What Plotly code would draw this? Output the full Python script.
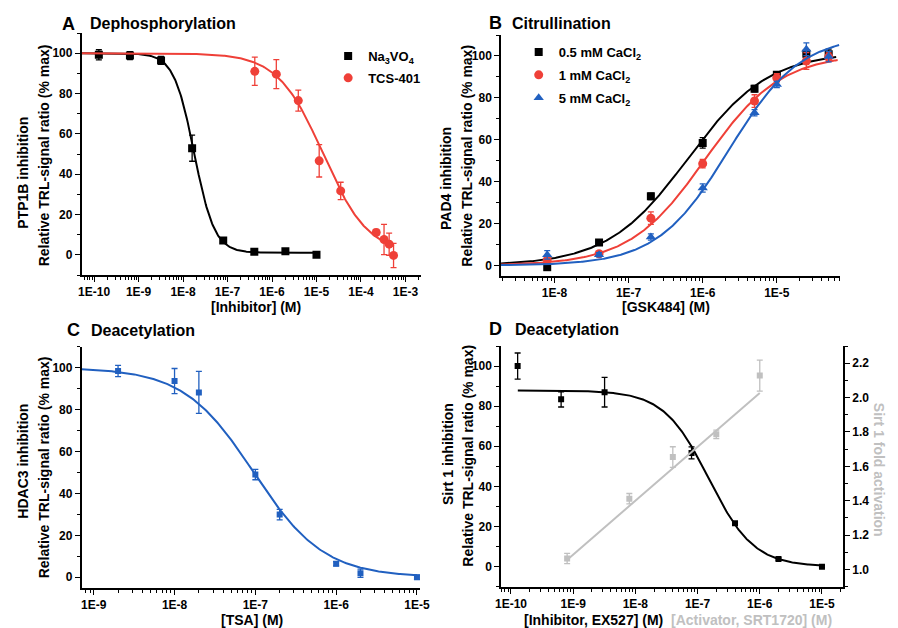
import numpy as np
import plotly.graph_objects as go

# ---------------- data ----------------
# Panel A: PTP1B dephosphorylation
a_na3vo4_conc = [1.28e-10, 6.4e-10, 3.2e-9, 1.6e-8, 8e-8, 4e-7, 2e-6, 1e-5]
a_na3vo4_val = [99.2, 98.8, 96.4, 52.9, 7.1, 1.5, 1.8, 0.0]
a_na3vo4_err = [2.5, 2.0, 2.0, 6.5, 1.0, 0.8, 0.8, 0.8]
a_tcs_conc = [4.1e-7, 1.25e-6, 3.9e-6, 1.15e-5, 3.5e-5, 2.2e-4, 3.3e-4, 4.3e-4, 5.4e-4]
a_tcs_val = [91.0, 89.6, 76.5, 46.6, 31.7, 11.1, 7.6, 5.3, -0.3]
a_tcs_err = [7.0, 7.2, 5.2, 8.0, 4.3, 1.5, 7.5, 5.5, 6.0]

# Panel B: PAD4 citrullination
b_conc = [8e-9, 4e-8, 2e-7, 1e-6, 5e-6, 1e-5, 2.5e-5, 5e-5]
b_05_val = [-0.8, 11.0, 33.0, 58.5, 84.4, 91.0, 101.0, 100.8]
b_05_err = [1.5, 1.0, 1.5, 2.5, 1.5, 1.5, 2.0, 2.5]
b_1_val = [2.7, 5.6, 22.6, 48.6, 78.5, 89.5, 97.6, 99.5]
b_1_err = [1.5, 1.0, 3.0, 2.0, 3.0, 2.0, 4.0, 2.0]
b_5_val = [5.1, 5.1, 13.6, 37.0, 72.9, 86.4, 103.2, 99.7]
b_5_err = [2.0, 1.0, 1.5, 2.0, 1.5, 1.5, 3.0, 2.5]

# Panel C: HDAC3 deacetylation
c_conc = [2e-9, 1e-8, 2e-8, 1e-7, 2e-7, 1e-6, 2e-6, 1e-5]
c_val = [98.4, 93.6, 88.2, 49.0, 29.9, 6.4, 1.9, 0.0]
c_err = [2.7, 6.0, 10.0, 2.5, 2.5, 1.0, 2.0, 1.0]

# Panel D: Sirt1 deacetylation (inhibitor, left axis; activator, right axis)
d_ex527_conc = [1.28e-10, 6.4e-10, 3.2e-9, 8e-8, 4e-7, 2e-6, 1e-5]
d_ex527_val = [100.0, 83.4, 87.0, 56.7, 21.6, 3.8, 0.0]
d_ex527_err = [6.5, 3.8, 7.4, 3.0, 0.8, 0.6, 0.5]
d_srt_conc = [8e-10, 8e-9, 4e-8, 2e-7, 1e-6]
d_srt_val = [1.064, 1.412, 1.654, 1.786, 2.128]
d_srt_err = [0.03, 0.03, 0.06, 0.025, 0.09]

# Four-parameter logistic fits:
# (response at low dose, response at high dose, log10 IC50/EC50, hill slope, log10 x start, log10 x end)
fit_a_na3vo4 = (100.0, 1.0, -7.75, 1.9, -10.28, -5.0)
fit_a_tcs = (100.0, 0.0, -4.85, 0.85, -10.28, -3.26)
fit_b_05 = (0.0, 102.0, -6.20, 0.80, -8.72, -4.20)
fit_b_1 = (0.0, 101.0, -5.97, 0.85, -8.72, -4.18)
fit_b_5 = (0.0, 110.0, -5.65, 0.90, -8.72, -4.16)
fit_c = (100.0, 0.0, -7.02, 1.0, -9.15, -5.0)
fit_d_ex527 = (87.8, 0.0, -6.82, 1.2, -9.89, -5.0)
# Linear fit in log(x) for the activator: (intercept, slope, log10 x start, log10 x end)
fit_d_srt = (3.904, 0.313, -9.09, -6.0)

RED = "#ef4038"
BLUE = "#2160c0"
BLACK = "#000000"
GRAY = "#c0c0c0"
FONT = "Liberation Sans, Arial, sans-serif"

W, H = 898, 628


def hill_curve(p, n=300):
    y_low, y_high, logc, h, lo, hi = p
    lx = np.linspace(lo, hi, n)
    y = y_high + (y_low - y_high) / (1.0 + 10.0 ** ((lx - logc) * h))
    return 10.0 ** lx, y


def lin_curve(p, n=50):
    a, b, lo, hi = p
    lx = np.linspace(lo, hi, n)
    return 10.0 ** lx, a + b * lx


def px_x(x):
    return x / W


def px_y(y):
    return 1 - y / H


fig = go.Figure()

# Axis domains (pixels -> paper)
dom = {
    "A": ((77, 423), (33, 275)),
    "B": ((504, 849), (35, 276)),
    "C": ((77, 421.7), (346.7, 587.7)),
    "D": ((504, 852.3), (346, 586.7)),
}


def xdom(k):
    return [px_x(dom[k][0][0]), px_x(dom[k][0][1])]


def ydom(k):
    return [px_y(dom[k][1][1]), px_y(dom[k][1][0])]


def err(arr, color, width=3):
    return dict(type="data", array=arr, visible=True, color=color, thickness=1.3, width=width)


# ---- Panel A ----
x, y = hill_curve(fit_a_na3vo4)
fig.add_trace(go.Scatter(x=x, y=y, mode="lines", line=dict(color=BLACK, width=2),
                         xaxis="x", yaxis="y", showlegend=False, hoverinfo="skip"))
fig.add_trace(go.Scatter(x=a_na3vo4_conc, y=a_na3vo4_val, mode="markers",
                         marker=dict(symbol="square", size=8, color=BLACK),
                         error_y=err(a_na3vo4_err, BLACK), name="Na<sub>3</sub>VO<sub>4</sub>",
                         legendgroup="a1", xaxis="x", yaxis="y", legend="legend"))
x, y = hill_curve(fit_a_tcs)
fig.add_trace(go.Scatter(x=x, y=y, mode="lines", line=dict(color=RED, width=2),
                         xaxis="x", yaxis="y", showlegend=False, hoverinfo="skip"))
fig.add_trace(go.Scatter(x=a_tcs_conc, y=a_tcs_val, mode="markers",
                         marker=dict(symbol="circle", size=9, color=RED),
                         error_y=err(a_tcs_err, RED), name="TCS-401",
                         legendgroup="a2", xaxis="x", yaxis="y", legend="legend"))

# ---- Panel B ----
for i, (fit, vals, errs, color, sym, size, label) in enumerate([
    (fit_b_05, b_05_val, b_05_err, BLACK, "square", 8, "0.5 mM CaCl<sub>2</sub>"),
    (fit_b_1, b_1_val, b_1_err, RED, "circle", 9, "1 mM CaCl<sub>2</sub>"),
    (fit_b_5, b_5_val, b_5_err, BLUE, "triangle-up", 9, "5 mM CaCl<sub>2</sub>"),
]):
    x, y = hill_curve(fit)
    fig.add_trace(go.Scatter(x=x, y=y, mode="lines", line=dict(color=color, width=2),
                             xaxis="x2", yaxis="y2", showlegend=False, hoverinfo="skip"))
    fig.add_trace(go.Scatter(x=b_conc, y=vals, mode="markers",
                             marker=dict(symbol=sym, size=size, color=color),
                             error_y=err(errs, color), name=label, legendgroup="b%d" % i,
                             xaxis="x2", yaxis="y2", legend="legend2"))

# ---- Panel C ----
x, y = hill_curve(fit_c)
fig.add_trace(go.Scatter(x=x, y=y, mode="lines", line=dict(color=BLUE, width=2),
                         xaxis="x3", yaxis="y3", showlegend=False, hoverinfo="skip"))
fig.add_trace(go.Scatter(x=c_conc, y=c_val, mode="markers",
                         marker=dict(symbol="square", size=6, color=BLUE),
                         error_y=err(c_err, BLUE), showlegend=False,
                         xaxis="x3", yaxis="y3"))

# ---- Panel D ----
x, y = lin_curve(fit_d_srt)
fig.add_trace(go.Scatter(x=x, y=y, mode="lines", line=dict(color=GRAY, width=2),
                         xaxis="x4", yaxis="y5", showlegend=False, hoverinfo="skip"))
fig.add_trace(go.Scatter(x=d_srt_conc, y=d_srt_val, mode="markers",
                         marker=dict(symbol="square", size=6, color=GRAY),
                         error_y=err(d_srt_err, GRAY), showlegend=False,
                         xaxis="x4", yaxis="y5"))
x, y = hill_curve(fit_d_ex527)
fig.add_trace(go.Scatter(x=x, y=y, mode="lines", line=dict(color=BLACK, width=2),
                         xaxis="x4", yaxis="y4", showlegend=False, hoverinfo="skip"))
fig.add_trace(go.Scatter(x=d_ex527_conc, y=d_ex527_val, mode="markers",
                         marker=dict(symbol="square", size=6, color=BLACK),
                         error_y=err(d_ex527_err, BLACK), showlegend=False,
                         xaxis="x4", yaxis="y4"))

tickfont = dict(family=FONT, size=12, color="black", weight="bold")


def log_minor(lo, hi):
    vals = []
    for d in range(lo, hi + 1):
        for m in range(2, 10):
            vals.append(m * 10.0 ** d)
    return vals


def log_axis(k, rng, dec_lo, dec_hi, anchor):
    tv = [10.0 ** d for d in range(dec_lo, dec_hi + 1)]
    tt = ["1E%d" % d for d in range(dec_lo, dec_hi + 1)]
    return dict(type="log", domain=xdom(k), range=rng, anchor=anchor,
                showline=True, linecolor="black", linewidth=1.6, mirror=False,
                ticks="outside", ticklen=5, tickwidth=1.4, tickcolor="black",
                tickmode="array", tickvals=tv, ticktext=tt, tickfont=tickfont,
                showgrid=False, zeroline=False,
                minor=dict(ticks="outside", ticklen=3, tickwidth=1, tickcolor="black",
                           tickmode="array", tickvals=log_minor(dec_lo - 2, dec_hi + 1),
                           showgrid=False))


def lin_axis(k, rng, anchor, side="left", dtick=20, minor_dtick=10, fmt=None, overlay=None):
    d = dict(domain=ydom(k), range=rng, anchor=anchor, side=side,
             showline=True, linecolor="black", linewidth=1.6,
             ticks="outside", ticklen=5, tickwidth=1.4, tickcolor="black",
             tick0=0, dtick=dtick, tickfont=tickfont, showgrid=False, zeroline=False,
             minor=dict(ticks="outside", ticklen=3, tickwidth=1, tickcolor="black",
                        dtick=minor_dtick, showgrid=False))
    if fmt:
        d["tickformat"] = fmt
    if overlay:
        d["overlaying"] = overlay
        d.pop("domain")
    return d


legend_font = dict(family=FONT, size=13, weight="bold", color="black")

layout = dict(
    width=W, height=H, margin=dict(l=0, r=0, t=0, b=0),
    paper_bgcolor="white", plot_bgcolor="white",
    font=dict(family=FONT, color="black"),
    xaxis=log_axis("A", [-10.28, -2.64], -10, -3, "y"),
    yaxis=lin_axis("A", [-10, 110], "x"),
    xaxis2=log_axis("B", [-8.72, -4.15], -8, -5, "y2"),
    yaxis2=lin_axis("B", [-5, 110], "x2"),
    xaxis3=log_axis("C", [-9.15, -4.96], -9, -5, "y3"),
    yaxis3=lin_axis("C", [-5, 110], "x3"),
    xaxis4=log_axis("D", [-10.16, -4.66], -10, -5, "y4"),
    yaxis4=lin_axis("D", [-10, 110], "x4"),
    yaxis5=lin_axis("D", [0.9, 2.3], "x4", side="right", dtick=0.2, minor_dtick=0.1,
                    fmt=".1f", overlay="y4"),
    legend=dict(x=px_x(328), y=px_y(41), xanchor="left", yanchor="top",
                bgcolor="rgba(0,0,0,0)", font=legend_font,
                itemwidth=30, traceorder="grouped", tracegroupgap=2),
    legend2=dict(x=px_x(522), y=px_y(37), xanchor="left", yanchor="top",
                 bgcolor="rgba(0,0,0,0)", font=legend_font,
                 itemwidth=30, traceorder="grouped", tracegroupgap=3),
)
fig.update_layout(**layout)
fig.update_layout(yaxis5=dict(tick0=1.0))

ann = []


def text(x, y, s, size, color="black", angle=0, xanchor="left", yanchor="middle"):
    ann.append(dict(x=px_x(x), y=px_y(y), xref="paper", yref="paper", text=s,
                    showarrow=False, xanchor=xanchor, yanchor=yanchor, textangle=angle,
                    borderpad=0,
                    font=dict(family=FONT, size=size, color=color, weight="bold")))


# Panel letters and titles
for letter, lx, title, tx, ty in [
    ("A", 56, "Dephosphorylation", 84, 24),
    ("B", 491, "Citrullination", 514, 23),
    ("C", 61, "Deacetylation", 86, 330),
    ("D", 491, "Deacetylation", 517, 329),
]:
    text(lx, ty, letter, 18)
    text(tx, ty, title, 16)

# Y-axis titles
for s, x, y in [
    ("PTP1B inhibition", 17, 173), ("Relative TRL-signal ratio (% max)", 39, 155),
    ("PAD4 inhibition", 448, 179), ("Relative TRL-signal ratio (% max)", 469, 156),
    ("HDAC3 inhibition", 17, 461), ("Relative TRL-signal ratio (% max)", 39, 467),
    ("Sirt 1 inhibition", 450, 454), ("Relative TRL-signal ratio (% max)", 470, 456),
]:
    text(x, y, s, 14, angle=-90, xanchor="center", yanchor="middle")
text(889, 470, "Sirt 1 fold activation", 14, color=GRAY, angle=90, xanchor="center")

# X-axis titles
text(255, 307, "[Inhibitor] (M)", 14, xanchor="center")
text(672, 307, "[GSK484] (M)", 14, xanchor="center")
text(250, 620, "[TSA] (M)", 14, xanchor="center")
text(684, 620, "[Inhibitor, EX527] (M)  <span style='color:%s'>[Activator, SRT1720] (M)</span>" % GRAY,
     14, xanchor="center")

fig.update_layout(annotations=ann)
fig.write_html("out.html")
